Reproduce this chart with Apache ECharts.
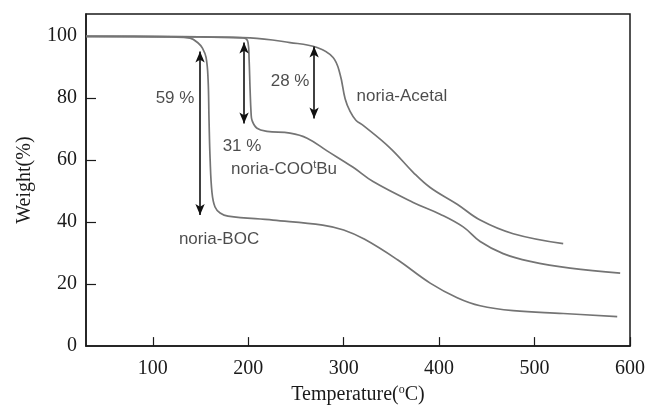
<!DOCTYPE html>
<html>
<head>
<meta charset="utf-8">
<script src="https://cdn.jsdelivr.net/npm/echarts@6/dist/echarts.min.js"></script>
<style>
	html,body{margin:0;padding:0;background:#fff;}
	#main{width:648px;height:411px;}
</style>
</head>
<body>
<div id="main"></div>
<script>
// TGA curves, temperature (C) vs weight (%)
var bocT = [30, 80, 120, 139, 148, 152, 155.8, 157.9, 158.9, 160, 162, 165.2, 170.5, 178.8, 226, 278, 300, 322, 356, 390.6, 418.9, 443, 477.6, 530, 586.6];
var bocW = [99.8, 99.8, 99.6, 99.2, 97.5, 96, 93, 86, 73, 60.6, 49.5, 44.8, 42.9, 41.9, 40.6, 39, 37.4, 34.4, 27.9, 20.3, 15.6, 13, 11.4, 10.5, 9.5];

var cooT = [30, 150, 194.6, 199.8, 200.9, 201.9, 203, 204, 209.2, 219.7, 243.8, 261.7, 282.6, 309.9, 330.8, 372.8, 401, 425.2, 443, 467.1, 495.4, 537.3, 589.7];
var cooW = [99.8, 99.6, 99.3, 97.8, 92.4, 82.9, 74.9, 72.7, 70.2, 69.2, 68.6, 67, 62.9, 57.6, 53, 46.3, 42.5, 38.4, 33.7, 29.8, 27.3, 25.1, 23.5];

var acetalT = [30, 150, 201.9, 243.8, 272.1, 288.9, 296.2, 301.5, 306.7, 313, 320.4, 348.7, 372.8, 390.6, 418.9, 443, 477.6, 530];
var acetalW = [99.8, 99.6, 99.3, 97.8, 96.2, 93, 87.6, 79.7, 75.6, 72.7, 71.1, 63.8, 56, 51.1, 45.7, 40.6, 36.2, 33];

// annotations
var labelText = ["59 %", "31 %", "28 %", "noria-Acetal", "noria-COO{sup|t}Bu", "noria-BOC"];
var labelT = [123.3, 193.5, 243.8, 361, 237.5, 169.4];
var labelW = [79.7, 64.4, 85.4, 80.6, 56.8, 34.3];

var arrowT = [149.5, 195.6, 269];
var arrowTop = [94.9, 97.8, 96.5];
var arrowBottom = [42.2, 71.7, 73.3];

var xTicks = [100, 200, 300, 400, 500, 600];
var yLabels = [0, 20, 40, 60, 80, 100];
var yTicks = [20, 40, 60, 80];

function pairs(xs, ys){
	var out = [];
	for (var i = 0; i < xs.length; i++) {
		out.push([xs[i], ys[i]]);
	}
	return out;
}

function curve(name, xs, ys){
	return {
		name: name,
		type: 'line',
		data: pairs(xs, ys),
		showSymbol: false,
		smooth: 0.4,
		lineStyle: {color: '#747474', width: 1.7},
		silent: true
	};
}

var labelData = [];
for (var i = 0; i < labelText.length; i++) {
	labelData.push({value: [labelT[i], labelW[i]], name: labelText[i]});
}

var arrowData = [];
for (var j = 0; j < arrowT.length; j++) {
	arrowData.push([{coord: [arrowT[j], arrowTop[j]]}, {coord: [arrowT[j], arrowBottom[j]]}]);
}

var serif = '"Liberation Serif", "Times New Roman", serif';
var sans = '"Liberation Sans", Arial, sans-serif';

var myChart = echarts.init(document.getElementById("main"));
myChart.setOption({
	animation: false,
	grid: {left: 86, right: 18, top: 14, bottom: 61, show: true, borderColor: '#1a1a1a', borderWidth: 1.5},
	xAxis: {
		type: 'value',
		min: 30,
		max: 600,
		name: 'Temperature({sup|o}C)',
		nameLocation: 'middle',
		nameGap: 36,
		nameTextStyle: {
			fontFamily: serif, fontSize: 20, color: '#1a1a1a', lineHeight: 22,
			rich: {sup: {fontFamily: serif, fontSize: 12, lineHeight: 12, verticalAlign: 'top', color: '#1a1a1a'}}
		},
		axisLine: {onZero: false, lineStyle: {color: '#1a1a1a', width: 1.5}},
		axisTick: {inside: true, length: 9, customValues: xTicks, lineStyle: {color: '#1a1a1a', width: 1.2}},
		axisLabel: {customValues: xTicks, margin: 13, fontFamily: serif, fontSize: 20, color: '#1a1a1a'},
		splitLine: {show: false}
	},
	yAxis: {
		type: 'value',
		min: 0,
		max: 107,
		name: 'Weight(%)',
		nameLocation: 'middle',
		nameGap: 51,
		nameTextStyle: {fontFamily: serif, fontSize: 20, color: '#1a1a1a'},
		axisLine: {onZero: false, lineStyle: {color: '#1a1a1a', width: 1.5}},
		axisTick: {inside: true, length: 10, customValues: yTicks, lineStyle: {color: '#1a1a1a', width: 1.2}},
		axisLabel: {customValues: yLabels, margin: 9, fontFamily: serif, fontSize: 20, color: '#1a1a1a'},
		splitLine: {show: false}
	},
	series: [
		curve('noria-BOC', bocT, bocW),
		curve('noria-COOtBu', cooT, cooW),
		curve('noria-Acetal', acetalT, acetalW),
		{
			type: 'scatter',
			data: labelData,
			symbolSize: 0,
			silent: true,
			label: {
				show: true,
				position: 'inside',
				formatter: function(p){ return p.name; },
				fontFamily: sans,
				fontSize: 17,
				lineHeight: 20,
				color: '#1e1e1e',
				rich: {sup: {fontFamily: sans, fontSize: 11, lineHeight: 11, verticalAlign: 'top', color: '#1e1e1e'}}
			},
			markLine: {
				silent: true,
				symbol: ['arrow', 'arrow'],
				symbolSize: [7, 11],
				label: {show: false},
				lineStyle: {color: '#111', width: 1.6, type: 'solid'},
				data: arrowData
			}
		}
	]
});
</script>
</body>
</html>
